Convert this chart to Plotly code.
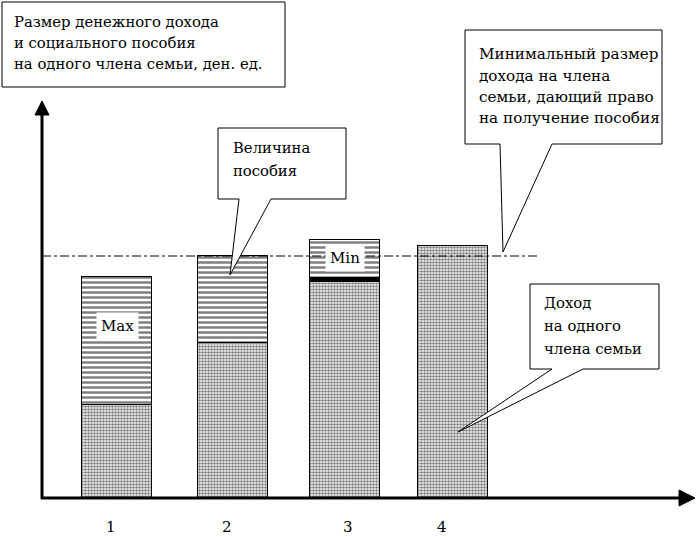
import plotly.graph_objects as go

# ---- data (arbitrary money units, threshold = 100) ----
categories = ["1", "2", "3", "4"]
income = [38.4, 64.0, 89.3, 104.1]        # доход на одного члена семьи
benefit = [53.0, 36.0, 17.3, 0.0]         # величина пособия
threshold = 100.0                          # минимальный размер дохода
bar_labels = ["Max", "", "Min", ""]

# ---- layout helpers (pixel geometry of the figure) ----
W, H = 696, 537
BASE_PX = 498          # pixel row of the x axis
PX_PER_UNIT = 2.42
bar_pos = [117, 232.5, 345, 452.5]
bar_width = 70
label_pos = [111, 227, 348, 442]
bar_label_py = [326, None, 257.5, None]

def fx(px):
    return px / W

def fy(py):
    return 1 - py / H

def uy(py):
    return (BASE_PX - py) / PX_PER_UNIT

FONT = "DejaVu Serif"

fig = go.Figure()
fig.add_trace(go.Bar(
    x=bar_pos, y=income, width=bar_width,
    marker=dict(color="white", line=dict(color="black", width=1.5),
                pattern=dict(shape=".", fgcolor="black", bgcolor="white",
                             size=3, solidity=0.55)),
    hoverinfo="skip", showlegend=False))
fig.add_trace(go.Bar(
    x=bar_pos, y=benefit, width=bar_width,
    marker=dict(color="white", line=dict(color="black", width=1.5),
                pattern=dict(shape="-", fgcolor="black", bgcolor="white",
                             size=5, solidity=0.5)),
    hoverinfo="skip", showlegend=False))

shapes = []
# threshold dash-dot line
shapes.append(dict(type="line", xref="x", yref="y", x0=42, x1=540,
                   y0=threshold, y1=threshold,
                   line=dict(color="black", width=1, dash="dashdot")))
# dark band at top of income in bar 3
shapes.append(dict(type="line", xref="x", yref="y",
                   x0=bar_pos[2] - bar_width / 2, x1=bar_pos[2] + bar_width / 2,
                   y0=income[2] + 1.2, y1=income[2] + 1.2,
                   line=dict(color="black", width=4)))
# axes with arrow heads
shapes.append(dict(type="line", xref="paper", yref="paper",
                   x0=fx(42), x1=fx(42), y0=fy(499), y1=fy(112),
                   line=dict(color="black", width=3)))
shapes.append(dict(type="path", xref="paper", yref="paper",
                   path=f"M {fx(35)},{fy(115)} L {fx(49)},{fy(115)} L {fx(42)},{fy(101)} Z",
                   fillcolor="black", line=dict(color="black", width=1)))
shapes.append(dict(type="line", xref="paper", yref="paper",
                   x0=fx(41), x1=fx(682), y0=fy(498), y1=fy(498),
                   line=dict(color="black", width=3)))
shapes.append(dict(type="path", xref="paper", yref="paper",
                   path=f"M {fx(679)},{fy(490)} L {fx(679)},{fy(506)} L {fx(695)},{fy(498)} Z",
                   fillcolor="black", line=dict(color="black", width=1)))

def callout(x0, y0, x1, y1, tail=None):
    p = f"M {fx(x0)},{fy(y0)} L {fx(x1)},{fy(y0)} L {fx(x1)},{fy(y1)} "
    if tail:
        tl, tr, tx, ty = tail
        p += f"L {fx(tr)},{fy(y1)} L {fx(tx)},{fy(ty)} L {fx(tl)},{fy(y1)} "
    p += f"L {fx(x0)},{fy(y1)} Z"
    shapes.append(dict(type="path", xref="paper", yref="paper", path=p,
                       fillcolor="white", line=dict(color="black", width=1)))

callout(2, 2, 285, 87)
callout(218, 128, 346, 199, (239, 271, 230, 275))
callout(465, 30, 662, 144, (500, 552, 503, 252))
callout(530, 284, 659, 369, (552, 583, 458, 432))

annotations = []

def text(lines, x, y0, step, size):
    for i, t in enumerate(lines):
        annotations.append(dict(xref="paper", yref="paper", x=fx(x), y=fy(y0 + i * step),
                                text=t, showarrow=False, xanchor="left", yanchor="middle",
                                font=dict(family=FONT, size=size, color="black")))

text(["Размер денежного дохода", "и социального пособия",
      "на одного члена семьи, ден. ед."], 12, 21, 21.5, 14.8)
text(["Величина", "пособия"], 231, 148, 22, 14.8)
text(["Минимальный размер", "дохода на члена",
      "семьи, дающий право", "на получение пособия"], 477, 54, 21.5, 15.2)
text(["Доход", "на одного", "члена семьи"], 542, 302, 23, 14.8)

# Max / Min labels inside bars
for i, lab in enumerate(bar_labels):
    if lab:
        annotations.append(dict(xref="x", yref="y", x=bar_pos[i], y=uy(bar_label_py[i]),
                                text=lab, showarrow=False, bgcolor="white",
                                borderpad=4,
                                font=dict(family=FONT, size=15, color="black")))

# category labels
for c, p in zip(categories, label_pos):
    annotations.append(dict(xref="paper", yref="paper", x=fx(p), y=fy(527),
                            text=c, showarrow=False, xanchor="center", yanchor="middle",
                            font=dict(family=FONT, size=15, color="black")))

fig.update_layout(
    width=W, height=H, margin=dict(l=0, r=0, t=0, b=0),
    font=dict(family=FONT, color="black"),
    paper_bgcolor="white", plot_bgcolor="white", barmode="stack", bargap=0,
    xaxis=dict(range=[0, W], visible=False, fixedrange=True),
    yaxis=dict(range=[uy(H), uy(0)], visible=False, fixedrange=True),
    shapes=shapes, annotations=annotations,
)
fig.write_html("out.html", config={"displayModeBar": False},
               post_script="document.body.style.margin='0';document.body.style.overflow='hidden';")
